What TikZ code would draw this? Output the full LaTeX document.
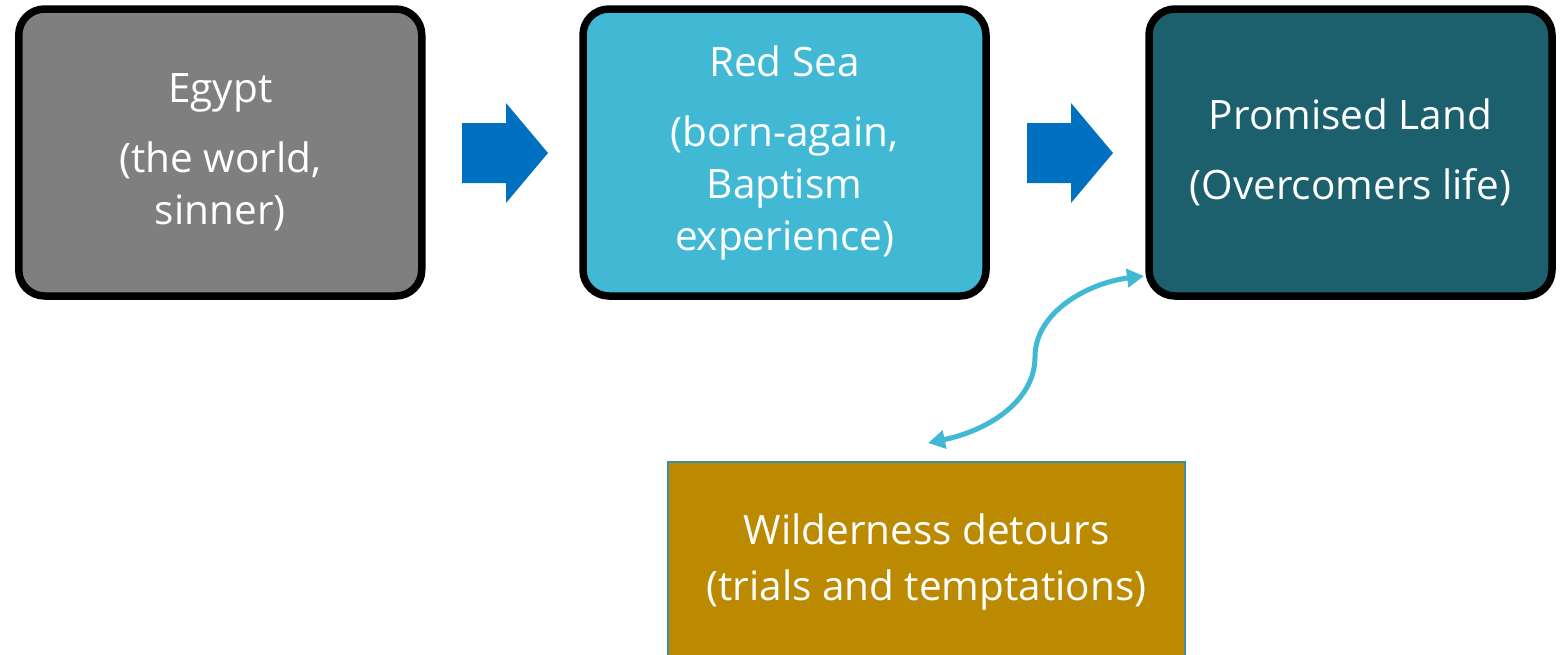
\documentclass[tikz,border=0pt]{standalone}
\usepackage{fontspec}
\setmainfont{Open Sans}
\usetikzlibrary{arrows.meta}
\definecolor{egyptgray}{HTML}{7F7F7F}
\definecolor{seablue}{HTML}{41B9D5}
\definecolor{landteal}{HTML}{1B606C}
\definecolor{arrowblue}{HTML}{0070C0}
\definecolor{wildgold}{HTML}{BB8A00}
\definecolor{wildedge}{HTML}{3A8FA0}
\tikzset{
  stagebox/.style={draw=black, line width=7.5pt, rounded corners=26pt,
    minimum width=403pt, minimum height=287pt, inner sep=0pt,
    text=white, align=center, font=\fontsize{40.5pt}{52pt}\selectfont},
  wildbox/.style={draw=wildedge, line width=1.5pt, fill=wildgold,
    minimum width=517pt, minimum height=200pt, inner sep=0pt,
    text=white, align=center, font=\fontsize{40.5pt}{56pt}\selectfont},
  blockarrow/.style={fill=arrowblue},
  detour/.style={draw=seablue, line width=5pt,
    {Triangle[length=17pt,width=18pt]}-{Triangle[length=17pt,width=18pt]}}
}
\begin{document}
\begin{tikzpicture}[x=1pt,y=-1pt]
\useasboundingbox (0,0) rectangle (1561,654);
\clip (0,0) rectangle (1561,654);
\node[stagebox, fill=egyptgray] (egypt) at (220.25,152.5)
  {Egypt\\[18pt](the world,\\sinner)};
\node[stagebox, fill=seablue] (redsea) at (784.5,152.5)
  {Red Sea\\[18pt](born-again,\\Baptism\\experience)};
\node[stagebox, fill=landteal] (land) at (1350.5,152.5)
  {Promised Land\\[18pt](Overcomers life)};
\node[wildbox] (wild) at (926.5,562) {Wilderness detours\\(trials and temptations)};
% block arrows
\fill[blockarrow] (462,123) -- (506,123) -- (506,103) -- (548,153) -- (506,203) -- (506,183) -- (462,183) -- cycle;
\fill[blockarrow] (1027,123) -- (1071,123) -- (1071,103) -- (1113,153) -- (1071,203) -- (1071,183) -- (1027,183) -- cycle;
% curved two-headed connector
\coordinate (wildend) at (928,443);
\coordinate (landend) at (1144,276);
\draw[detour] (wildend) .. controls (990,430) and (1035,400) .. (1035,357)
  .. controls (1035,312) and (1088,283) .. (landend);
\end{tikzpicture}
\end{document}
